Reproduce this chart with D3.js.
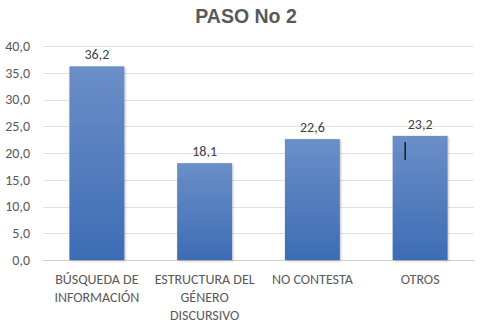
<!DOCTYPE html>
<html>
<head>
<meta charset="utf-8">
<script src="https://cdn.jsdelivr.net/npm/d3@7"></script>
<style>
  html, body { margin: 0; padding: 0; background: #fff; }
  svg { display: block; font-family: Carlito, Calibri, "Open Sans", sans-serif; }
</style>
</head>
<body>
<svg id="chart" width="492" height="325"></svg>
<script>
// Chart data
const title = "PASO No 2";
const categories = [
  ["BÚSQUEDA DE", "INFORMACIÓN"],
  ["ESTRUCTURA DEL", "GÉNERO", "DISCURSIVO"],
  ["NO CONTESTA"],
  ["OTROS"]
];
const values = [36.2, 18.1, 22.6, 23.2];
const yTicks = [0, 5, 10, 15, 20, 25, 30, 35, 40];

const fmt = v => d3.format(".1f")(v).replace(".", ",");
const bodyFont = "Carlito, Calibri, 'Open Sans', sans-serif";

const svg = d3.select("#chart");
const margin = { top: 46, right: 18, bottom: 65, left: 43 };
const width = 492 - margin.left - margin.right;
const height = 325 - margin.top - margin.bottom;

const x = d3.scaleBand().domain(d3.range(values.length)).range([0, width]).paddingInner(0.49).paddingOuter(0.245);
const y = d3.scaleLinear().domain([0, 40]).range([height, 0]);

// Bar gradient: lighter at top, deeper blue at the base
const defs = svg.append("defs");
const grad = defs.append("linearGradient").attr("id", "barGrad").attr("x1", 0).attr("y1", 0).attr("x2", 0).attr("y2", 1);
grad.append("stop").attr("offset", "0%").attr("stop-color", "#6b8fc7");
grad.append("stop").attr("offset", "100%").attr("stop-color", "#3d6cb5");

const shadow = defs.append("filter").attr("id", "barShadow").attr("x", "-10%").attr("y", "-10%").attr("width", "130%").attr("height", "130%");
shadow.append("feDropShadow").attr("dx", 1).attr("dy", 1).attr("stdDeviation", 1).attr("flood-color", "#000").attr("flood-opacity", 0.25);

// Title
svg.append("text")
  .attr("x", 246).attr("y", 23)
  .attr("text-anchor", "middle")
  .attr("font-family", "'Liberation Sans', Arial, sans-serif")
  .attr("font-weight", "bold")
  .attr("font-size", 19.5)
  .attr("fill", "#595959")
  .text(title);

const g = svg.append("g").attr("transform", `translate(${margin.left},${margin.top})`);

// Gridlines
g.append("g")
  .selectAll("line")
  .data(yTicks)
  .join("line")
  .attr("x1", 0).attr("x2", width)
  .attr("y1", d => Math.round(y(d)) + 0.5).attr("y2", d => Math.round(y(d)) + 0.5)
  .attr("stroke", d => d === 0 ? "#d0d0d0" : "#e2e2e2")
  .attr("stroke-width", 1);

// Y axis labels
const yAxis = d3.axisLeft(y).tickValues(yTicks).tickFormat(fmt).tickSize(0).tickPadding(13);
g.append("g").call(yAxis)
  .call(s => s.select(".domain").remove())
  .call(s => s.selectAll("text").attr("font-size", 14).attr("fill", "#595959")
    .attr("font-family", bodyFont));

// Bars
g.append("g")
  .selectAll("rect")
  .data(values)
  .join("rect")
  .attr("x", (d, i) => x(i))
  .attr("y", d => y(d))
  .attr("width", x.bandwidth())
  .attr("height", d => height - y(d))
  .attr("fill", "url(#barGrad)")
  .attr("filter", "url(#barShadow)");

// Value labels
g.append("g")
  .selectAll("text")
  .data(values)
  .join("text")
  .attr("x", (d, i) => x(i) + x.bandwidth() / 2)
  .attr("y", d => y(d) - 7)
  .attr("text-anchor", "middle")
  .attr("font-size", 14)
  .attr("font-family", bodyFont)
  .attr("fill", "#404040")
  .text(fmt);

// Text cursor inside the last bar
g.append("line")
  .attr("x1", x(3) + 12.5).attr("x2", x(3) + 12.5)
  .attr("y1", y(23.2) + 6).attr("y2", y(23.2) + 24)
  .attr("stroke", "#000").attr("stroke-width", 1.2);

// Category labels (multi-line)
const cat = g.append("g").selectAll("text")
  .data(categories)
  .join("text")
  .attr("text-anchor", "middle")
  .attr("font-size", 14)
  .attr("font-family", bodyFont)
  .attr("fill", "#595959")
  .attr("transform", (d, i) => `translate(${x(i) + x.bandwidth() / 2},${height + 24})`);
cat.selectAll("tspan")
  .data(d => d)
  .join("tspan")
  .attr("x", 0)
  .attr("dy", (d, i) => i === 0 ? 0 : 18)
  .text(d => d);
</script>
</body>
</html>
